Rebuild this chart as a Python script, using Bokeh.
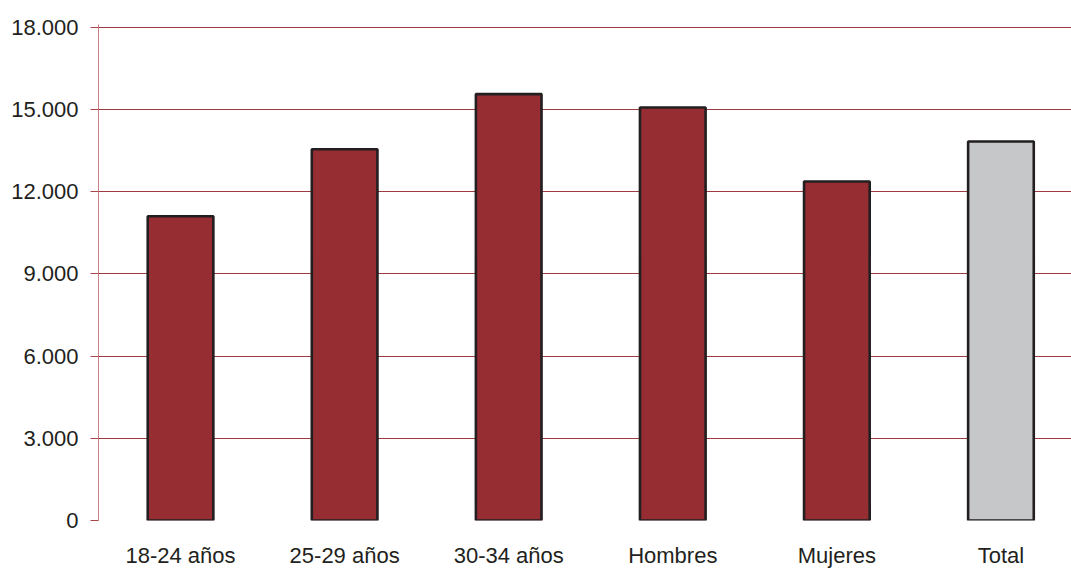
from bokeh.plotting import figure
from bokeh.models import Range1d, FixedTicker, CustomJSTickFormatter
from bokeh.embed import file_html
from bokeh.resources import INLINE

categories = ["18-24 años", "25-29 años", "30-34 años", "Hombres", "Mujeres", "Total"]
values = [11100, 13550, 15560, 15070, 12370, 13830]
colors = ["#952d33", "#952d33", "#952d33", "#952d33", "#952d33", "#c6c7c9"]
y_ticks = [0, 3000, 6000, 9000, 12000, 15000, 18000]

positions = [i + 0.5 for i in range(len(categories))]

FONT = "'Liberation Sans', Arial, sans-serif"

p = figure(width=1071, height=570, output_backend="svg", toolbar_location=None,
           x_range=Range1d(0, 5.93), y_range=Range1d(0, 18100),
           min_border_left=98, min_border_right=0, min_border_top=24, min_border_bottom=50)
p.outline_line_color = None

p.vbar(x=positions, top=values, width=0.40, fill_color=colors,
       line_color="#231f20", line_width=2.6)

p.xaxis.ticker = FixedTicker(ticks=positions)
p.xaxis.major_label_overrides = {pos: c for pos, c in zip(positions, categories)}
p.xaxis.axis_line_color = None
p.xaxis.major_tick_line_color = None
p.xaxis.minor_tick_line_color = None
p.xaxis.major_label_standoff = 16
p.xaxis.major_label_text_font = FONT
p.xaxis.major_label_text_font_size = "22px"
p.xaxis.major_label_text_color = "#231f20"
p.xgrid.visible = False

p.yaxis.ticker = FixedTicker(ticks=y_ticks)
p.yaxis.formatter = CustomJSTickFormatter(code="return tick.toLocaleString('de-DE');")
p.yaxis.axis_line_color = "#c98088"
p.yaxis.axis_line_width = 1
p.yaxis.major_tick_line_color = "#a8464d"
p.yaxis.major_tick_in = 0
p.yaxis.major_tick_out = 8
p.yaxis.minor_tick_line_color = None
p.yaxis.major_label_standoff = 12
p.yaxis.major_label_text_font = FONT
p.yaxis.major_label_text_font_size = "22px"
p.yaxis.major_label_text_color = "#231f20"
p.ygrid.grid_line_color = "#9e3a41"
p.ygrid.grid_line_width = 1

p.background_fill_color = "white"
p.border_fill_color = "white"

open("out.html", "w").write(file_html(p, INLINE))
